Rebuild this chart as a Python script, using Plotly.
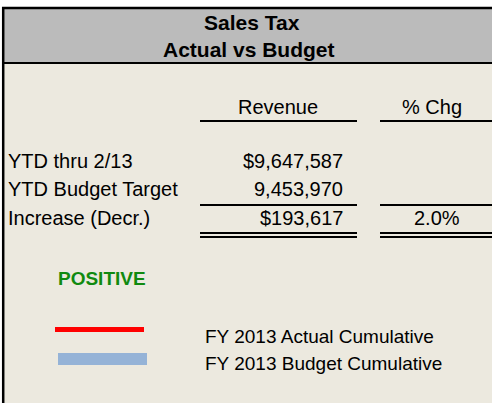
import plotly.graph_objects as go

# ---- data ----
title_lines = ["Sales Tax", "Actual vs Budget"]
col_headers = ["Revenue", "% Chg"]
row_labels = ["YTD thru 2/13", "YTD Budget Target", "Increase (Decr.)"]
revenue = ["$9,647,587", "9,453,970", "$193,617"]
pct_chg = ["", "", "2.0%"]
status = "POSITIVE"
legend_labels = ["FY 2013 Actual Cumulative", "FY 2013 Budget Cumulative"]

# ---- style ----
W, H = 492, 403
FONT = "Liberation Sans, Arial, sans-serif"
BG = "#ECE9DF"
HEAD = "#BBBBBB"
GREEN = "#108A10"
legend_colors = ["#FF0000", "#95B3D7"]
legend_widths = [5, 12]
legend_x = [(55, 144), (58, 147)]
legend_y = [329.5, 359]
legend_text_y = [336, 363]

row_y = [161, 189, 218]
title_y = [22, 49]
fs = 20

fig = go.Figure()
fig.add_trace(go.Scatter(x=[0, W], y=[0, H], mode="markers",
                         marker=dict(opacity=0), hoverinfo="skip", showlegend=False))

shapes = []
# background
shapes.append(dict(type="rect", x0=2, x1=W, y0=7, y1=H, fillcolor=BG, line=dict(width=0), layer="below"))
shapes.append(dict(type="rect", x0=2, x1=W, y0=8, y1=63, fillcolor=HEAD, line=dict(width=0), layer="below"))
# borders
shapes.append(dict(type="line", x0=2, x1=W, y0=8, y1=8, line=dict(color="black", width=2.5)))
shapes.append(dict(type="line", x0=2, x1=W, y0=63, y1=63, line=dict(color="black", width=2)))
shapes.append(dict(type="line", x0=3.2, x1=3.2, y0=7, y1=H, line=dict(color="black", width=2.5)))
# column rules
cols = [(200, 357), (380, W)]
for (a, b) in cols:
    shapes.append(dict(type="line", x0=a, x1=b, y0=121, y1=121, line=dict(color="black", width=2)))
    shapes.append(dict(type="line", x0=a, x1=b, y0=205, y1=205, line=dict(color="black", width=2)))
    shapes.append(dict(type="line", x0=a, x1=b, y0=233, y1=233, line=dict(color="black", width=2)))
    shapes.append(dict(type="line", x0=a, x1=b, y0=237, y1=237, line=dict(color="black", width=2)))
# legend swatches
for (xa, xb), yy, c, w in zip(legend_x, legend_y, legend_colors, legend_widths):
    shapes.append(dict(type="line", x0=xa, x1=xb, y0=yy, y1=yy, line=dict(color=c, width=w)))

ann = []
def t(x, y, s, anchor="center", size=fs, bold=False, color="black"):
    ann.append(dict(x=x, y=y, text=("<b>%s</b>" % s) if bold else s, showarrow=False,
                    xanchor=anchor, yanchor="middle",
                    font=dict(family=FONT, size=size, color=color)))

for s, yy, xx in zip(title_lines, title_y, [252, 249]):
    t(xx, yy, s, bold=True, size=21)
t(278, 107, col_headers[0])
t(432, 107, col_headers[1])
for lab, rv, pc, yy in zip(row_labels, revenue, pct_chg, row_y):
    t(6, yy, lab, anchor="left")
    t(345, yy, rv, anchor="right")
    if pc:
        t(437, yy, pc)
t(102, 278, status, bold=True, size=19, color=GREEN)
for lab, yy in zip(legend_labels, legend_text_y):
    t(203, yy, lab, anchor="left", size=19)

fig.update_layout(
    width=W, height=H, margin=dict(l=0, r=0, t=0, b=0),
    paper_bgcolor="white", plot_bgcolor="white",
    xaxis=dict(range=[0, W], visible=False, fixedrange=True),
    yaxis=dict(range=[H, 0], visible=False, fixedrange=True),
    shapes=shapes, annotations=ann, showlegend=False,
)
fig.write_html("out.html", config={"displayModeBar": False},
               post_script="document.body.style.margin='0';document.body.style.overflow='hidden';")
